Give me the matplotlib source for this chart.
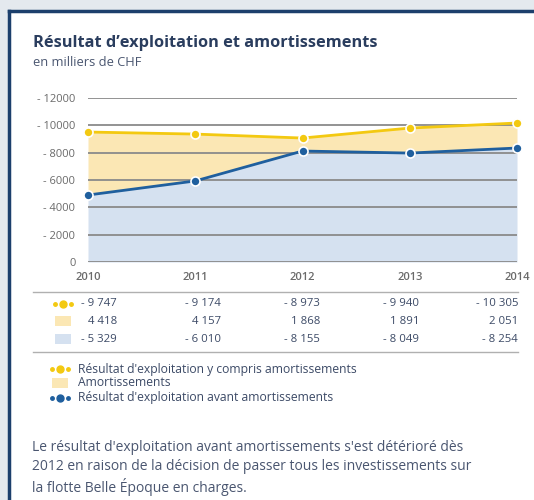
#!/usr/bin/env python3
"""Résultat d'exploitation et amortissements - area/line chart with data table."""

import matplotlib
matplotlib.use("Agg")
import matplotlib.pyplot as plt
from matplotlib.patches import Rectangle
from matplotlib.lines import Line2D

plt.rcParams["font.family"] = ["Open Sans", "DejaVu Sans"]

YEARS = [2010, 2011, 2012, 2013, 2014]
# values as drawn on the chart (absolute, in thousands CHF)
WITH_AMORT = [9510, 9360, 9070, 9800, 10170]
BEFORE_AMORT = [4900, 5930, 8120, 7970, 8340]
Y_TICKS = [0, 2000, 4000, 6000, 8000, 10000, 12000]
Y_LABELS = ["0", "- 2000", "- 4000", "- 6000", "- 8000", "- 10000", "- 12000"]

# table rows as printed
ROW_WITH = ["- 9 747", "- 9 174", "- 8 973", "- 9 940", "- 10 305"]
ROW_AMORT = ["4 418", "4 157", "1 868", "1 891", "2 051"]
ROW_BEFORE = ["- 5 329", "- 6 010", "- 8 155", "- 8 049", "- 8 254"]

LEGEND = ["Résultat d'exploitation y compris amortissements",
          "Amortissements",
          "Résultat d'exploitation avant amortissements"]
NOTE = ("Le résultat d'exploitation avant amortissements s'est détérioré dès\n"
        "2012 en raison de la décision de passer tous les investissements sur\n"
        "la flotte Belle Époque en charges.")

YELLOW = "#f3c911"
YELLOW_FILL = "#fbe7b4"
BLUE = "#1f5f9e"
BLUE_FILL = "#d5e1f0"
NAVY = "#1c3f6c"
TEXT = "#3c4a66"
GREY = "#6a6a6a"

W, H = 534, 500
fig = plt.figure(figsize=(W / 100, H / 100), dpi=100)
fig.patch.set_facecolor("#e4e9ee")


def fx(px):
    return px / W


def fy(py):
    return 1 - py / H


# card
fig.patches.append(Rectangle((fx(9), 0), 1, fy(11), transform=fig.transFigure,
                             facecolor="white", edgecolor="none", zorder=-2))
fig.lines.append(Line2D([fx(9), fx(9)], [fy(11), 0], transform=fig.transFigure, color=NAVY, lw=2.5, zorder=1))
fig.lines.append(Line2D([fx(9), 1], [fy(11), fy(11)], transform=fig.transFigure, color=NAVY, lw=2.5, zorder=1))

fig.text(fx(33), fy(43), "Résultat d’exploitation et amortissements", fontsize=11.8,
         fontweight="bold", color="#2a3d5e", va="center")
fig.text(fx(33), fy(63), "en milliers de CHF", fontsize=9.3, color="#4a5670", va="center")

# main chart
ax = fig.add_axes([fx(88), fy(262), fx(517) - fx(88), fy(98) - fy(262)], zorder=2)
ax.set_facecolor("none")
ax.fill_between(YEARS, 0, BEFORE_AMORT, color=BLUE_FILL, lw=0, zorder=1)
ax.fill_between(YEARS, BEFORE_AMORT, WITH_AMORT, color=YELLOW_FILL, lw=0, zorder=1)
for t in Y_TICKS:
    ax.axhline(t, color="#8a8a8a", lw=1.3, zorder=2)
ax.plot(YEARS, WITH_AMORT, color=YELLOW, lw=2, marker="o", ms=6.5,
        mec="white", mew=1.2, zorder=4, clip_on=False)
ax.plot(YEARS, BEFORE_AMORT, color=BLUE, lw=2, marker="o", ms=6.5,
        mec="white", mew=1.2, zorder=4, clip_on=False)
ax.set_xlim(YEARS[0], YEARS[-1])
ax.set_ylim(0, 12000)
ax.set_yticks(Y_TICKS)
ax.set_yticklabels(Y_LABELS)
ax.set_xticks(YEARS)
ax.set_xticklabels([str(y) for y in YEARS], fontweight="semibold")
ax.tick_params(axis="both", length=0, labelsize=8, labelcolor=GREY)
ax.tick_params(axis="y", pad=9)
ax.tick_params(axis="x", pad=7)
for s in ax.spines.values():
    s.set_visible(False)

# data table
fig.lines.append(Line2D([fx(33), fx(518)], [fy(292), fy(292)], transform=fig.transFigure, color="#b0b0b0", lw=1))
fig.lines.append(Line2D([fx(33), fx(518)], [fy(352), fy(352)], transform=fig.transFigure, color="#b0b0b0", lw=1))
col_x = [117, 221, 320, 419, 518]
for row, py in zip([ROW_WITH, ROW_AMORT, ROW_BEFORE], [304, 321, 339]):
    for v, px in zip(row, col_x):
        fig.text(fx(px), fy(py), v, fontsize=8.2, color=TEXT, ha="right", va="center")


def marker_line(px, py, color):
    fig.lines.append(Line2D([fx(px + 2), fx(px + 18)], [fy(py), fy(py)], transform=fig.transFigure,
                            color=color, ls="none", marker="o", ms=2.5, zorder=3))
    fig.lines.append(Line2D([fx(px + 10)], [fy(py)], transform=fig.transFigure, color=color,
                            marker="o", ms=5, zorder=4))


def swatch(px, py, color):
    fig.patches.append(Rectangle((fx(px + 2), fy(py + 5)), fx(16), 10 / H,
                                 transform=fig.transFigure, facecolor=color, edgecolor="none"))


marker_line(53, 304, YELLOW)
swatch(53, 321, YELLOW_FILL)
swatch(53, 339, BLUE_FILL)

# legend
marker_line(50, 369, YELLOW)
swatch(50, 383, YELLOW_FILL)
marker_line(50, 398, BLUE)
for txt, py in zip(LEGEND, [369, 383, 398]):
    fig.text(fx(78), fy(py), txt, fontsize=8.7, color=TEXT, va="center")

fig.text(fx(32), fy(468), NOTE, fontsize=10, color="#4a5670", va="center", linespacing=1.32)

fig.savefig("out.png", dpi=100, facecolor=fig.get_facecolor())
